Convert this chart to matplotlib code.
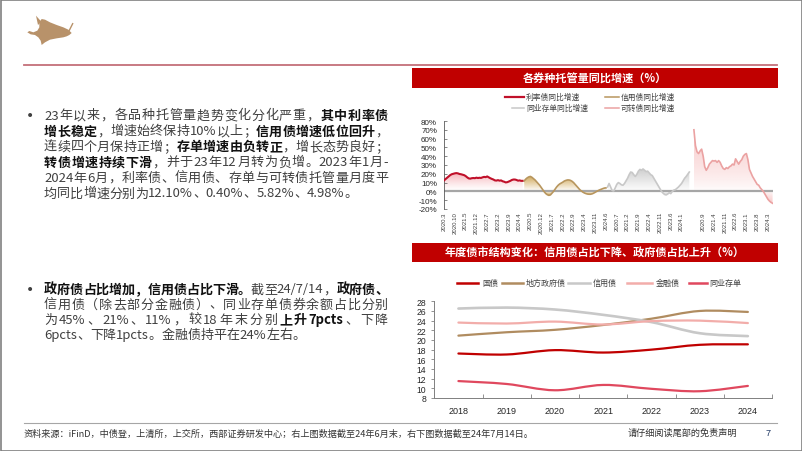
import numpy as np
import matplotlib
matplotlib.use('Agg')
import matplotlib.pyplot as plt
import matplotlib.colors as mcolors
from matplotlib.patches import Rectangle, Polygon, PathPatch
from matplotlib.path import Path

plt.rcParams['font.family'] = ['Noto Sans CJK SC', 'DejaVu Sans']

W, H = 802, 452

# ---------------- Chart 1 data (YoY growth, %) ----------------
rate_bond_yoy = [12.5, 14, 15.5, 17, 18.5, 19.5, 20, 20.5, 20.8, 20.5,
                 19.8, 19.5, 19, 18.5, 17.5, 16, 14.8, 14.5, 15, 15.2, 15, 15.6,
                 15.2, 15.5, 15.3, 16, 16.5, 16.2, 17, 16, 15, 14.2, 13.5, 12.5,
                 12.3, 12.8, 12.2, 12.5, 11.5, 11, 10.2, 10.5, 11.2, 12, 13, 13.5,
                 13.5, 13, 12.2, 12.5, 12, 12]
credit_bond_yoy = [12, 14, 15.5, 16.5, 17, 16, 14.5, 13, 11, 9, 7, 4.5, 2, -0.5, -2.5,
                   -3.8, -4.5, -4, -2, 0, 2.5, 5, 7, 8.5, 9.5, 10.5, 11.8, 12.5, 13, 13,
                   12.5, 11.5, 10, 8, 6, 4, 2, 0.5, -0.8, -1.8, -2.5, -3, -3.2, -3.2, -2.8,
                   -2, -1, 0, 1, 1.8, 2.5, 3.2, 3.8, 4]
ncd_yoy = [5, 9, 5, 1, 0.5, 4, 8, 10, 9, 7.5, 7, 9, 12, 15, 19, 22, 21.5, 19, 17, 19.5,
           23, 25, 24, 25.5, 24, 22.5, 23, 21, 19, 18, 15, 12, 9, 6, 3, 0, -2, -3.5, -4,
           -3, -1.5, -2.5, 0, 1.5, 2, 3.5, 5, 7, 9, 12, 15, 17, 19.5, 22]
convertible_yoy = [70, 52, 45, 43, 46, 48, 40, 28, 24, 27, 31, 33, 35, 34.5, 35, 33, 35,
                   33, 29, 26, 25, 27, 26, 28, 29, 31, 30, 37, 34, 31, 34, 36, 40, 42, 43,
                   36, 25, 21, 17, 14, 11, 8, 7, 4, 2, 0, -3, -6, -9, -11, -12.5, -13.5]
series1_names = ['利率债同比增速', '信用债同比增速', '同业存单同比增速', '可转债同比增速']
series1_colors = ['#C0102A', '#B8965E', '#C8C8C8', '#EBA2A2']
series1_fill = ['#F07A85', '#C99A3E', '#A8A8A8', '#F2A0A0']


def month_labels(y, m, n):
    out = []
    for i in range(n):
        mm = m - 1 + i
        out.append(f"{y + mm // 12}.{mm % 12 + 1}")
    return out


rate_months = month_labels(2020, 3, len(rate_bond_yoy))
credit_months = month_labels(2020, 1, len(credit_bond_yoy))
ncd_months = month_labels(2020, 1, len(ncd_yoy))
gap_labels = ['', '']
conv_months = month_labels(2020, 3, len(convertible_yoy))
categories = rate_months + credit_months + ncd_months + gap_labels + conv_months

# ---------------- Chart 2 data (share, %) ----------------
years = ['2018', '2019', '2020', '2021', '2022', '2023', '2024']
treasury = [17.2, 17.0, 17.9, 17.4, 18.0, 19.0, 19.1]
local_gov = [20.9, 21.6, 22.1, 23.1, 24.4, 26.0, 25.8]
credit_share = [26.5, 26.7, 26.3, 25.2, 23.7, 21.4, 20.8]
financial = [23.6, 23.4, 23.8, 23.2, 23.9, 24.0, 23.5]
ncd_share = [11.5, 10.9, 9.6, 10.7, 9.9, 9.4, 10.5]
series2_names = ['国债', '地方政府债', '信用债', '金融债', '同业存单']
series2_colors = ['#C00000', '#B08C60', '#C8C8C8', '#F2ADAA', '#E0485E']

# ---------------- figure ----------------
fig = plt.figure(figsize=(W / 100, H / 100), dpi=100)
bg = fig.add_axes([0, 0, 1, 1])
bg.set_xlim(0, W)
bg.set_ylim(H, 0)
bg.axis('off')


def px_axes(x0, y0, x1, y1):
    return fig.add_axes([x0 / W, 1 - y1 / H, (x1 - x0) / W, (y1 - y0) / H])


# border
bg.add_patch(Rectangle((0.5, 0.5), W - 1, H - 1, fc='none', ec='#808080', lw=1.2))

# logo (bull silhouette)
def logo_xy(pts):
    a = np.array(pts, float)
    return np.column_stack([10 + a[:, 0] / 3, 10 + a[:, 1] / 3])


body = [(88, 40), (95, 30), (105, 32), (120, 40), (140, 48), (160, 55), (175, 62),
        (185, 72), (178, 78), (170, 82), (160, 85), (140, 88), (120, 92), (105, 100),
        (95, 108), (92, 95), (85, 85), (75, 78), (62, 76), (52, 70), (58, 66), (70, 70),
        (82, 65), (88, 55)]
horn = [(84, 48), (78, 20), (94, 38)]
bg.add_patch(Polygon(logo_xy(body), closed=True, fc='#B8926A', ec='none'))
bg.add_patch(Polygon(logo_xy(horn), closed=True, fc='#B8926A', ec='none'))
tail = logo_xy([(178, 64), (184, 52), (188, 44)])
bg.plot(tail[:, 0], tail[:, 1], color='#B8926A', lw=1.0)

# top rule
bg.plot([24, 777], [65.5, 65.5], color='#C4707A', lw=1.3)

# title banners
for (y0, y1, title) in [(69, 89, '各券种托管量同比增速（%）'),
                        (244, 263, '年度债市结构变化：信用债占比下降、政府债占比上升（%）')]:
    bg.add_patch(Rectangle((412, y0), 366, y1 - y0, fc='#C00000', ec='none'))
    bg.text(595, (y0 + y1) / 2, title, color='white', fontsize=8, fontweight='bold',
            ha='center', va='center')

# chart 1 legend
leg1 = [(505, 524, 98, 0), (605, 619, 98, 1), (512, 524, 109, 2), (605, 619, 109, 3)]
for x0, x1, y, i in leg1:
    bg.plot([x0, x1], [y, y], color=series1_colors[i], lw=1.6 if i == 0 else 1.1)
    bg.text(x1 + 2, y, series1_names[i], fontsize=5.6, color='#404040', ha='left', va='center')

# chart 2 legend
leg2 = [(457, 478, 482), (502, 523, 526), (568, 590, 593), (627, 652, 656), (689, 707, 709)]
for i, (x0, x1, tx) in enumerate(leg2):
    bg.plot([x0, x1], [283.5, 283.5], color=series2_colors[i], lw=1.8)
    bg.text(tx, 283.5, series2_names[i], fontsize=5.8, color='#404040', ha='left', va='center')

# ---------------- chart 1 ----------------
ax1 = px_axes(444, 122, 772.6, 210)


def grad_fill(ax, x, y, color, amax, power=1.0):
    x = np.asarray(x, float)
    y = np.asarray(y, float)
    verts = np.vstack([[x[0], 0], np.column_stack([x, y]), [x[-1], 0]])
    poly = Polygon(verts, closed=True, fc='none', ec='none')
    ax.add_patch(poly)
    top = max(y.max(), 0.1)
    bot = min(y.min(), -0.1)
    ys = np.linspace(bot, top, 400)
    a = np.where(ys >= 0, ys / top, ys / bot)
    a = amax * np.clip(a, 0, 1) ** power
    img = np.zeros((400, 2, 4))
    img[..., :3] = mcolors.to_rgb(color)
    img[..., 3] = a[:, None]
    im = ax.imshow(img, extent=[x[0], x[-1], bot, top], origin='lower', aspect='auto',
                   interpolation='bilinear', zorder=1)
    im.set_clip_path(poly)


offs = [0, len(rate_bond_yoy), len(rate_bond_yoy) + len(credit_bond_yoy),
        len(rate_bond_yoy) + len(credit_bond_yoy) + len(ncd_yoy) + len(gap_labels)]
all_series = [rate_bond_yoy, credit_bond_yoy, ncd_yoy, convertible_yoy]
amaxes = [0.6, 0.85, 0.55, 0.55]
powers = [1.3, 1.0, 1.0, 0.7]
for i, (off, vals) in enumerate(zip(offs, all_series)):
    xs = np.arange(len(vals)) + off
    grad_fill(ax1, xs, vals, series1_fill[i], amaxes[i], powers[i])
ax1.axhline(0, color='#A6A6A6', lw=1.6, zorder=2)
for i, (off, vals) in enumerate(zip(offs, all_series)):
    xs = np.arange(len(vals)) + off
    ax1.plot(xs, vals, color=series1_colors[i], lw=1.5 if i == 0 else 1.2, zorder=3)

ax1.set_xlim(0, len(categories) - 1)
ax1.set_ylim(-20, 80)
ax1.set_facecolor('none')
for s in ['top', 'right', 'bottom']:
    ax1.spines[s].set_visible(False)
ax1.spines['left'].set_color('#595959')
ax1.spines['left'].set_linewidth(0.6)
yt = list(range(-20, 81, 10))
ax1.set_yticks(yt)
ax1.set_yticklabels([f'{v}%' for v in yt], fontsize=5.8, family='Liberation Sans', color='#262626')
ax1.tick_params(axis='y', direction='in', length=2, width=0.5, pad=5, colors='#595959',
                labelcolor='#262626')
xt = list(range(0, len(categories), 7))
ax1.set_xticks(xt)
ax1.set_xticklabels([categories[i] for i in xt], rotation=90, fontsize=4.3,
                    family='Liberation Sans', color='#404040')
ax1.tick_params(axis='x', length=0, pad=1.5)

# ---------------- chart 2 ----------------
ax2 = px_axes(434.3, 302.3, 772, 399)


def smooth_path(xs, ys):
    pts = np.column_stack([xs, ys]).astype(float)
    n = len(pts)
    verts = [pts[0]]
    codes = [Path.MOVETO]
    for i in range(n - 1):
        p0 = pts[i - 1] if i > 0 else pts[i]
        p1 = pts[i]
        p2 = pts[i + 1]
        p3 = pts[i + 2] if i + 2 < n else pts[i + 1]
        verts += [p1 + (p2 - p0) / 6, p2 - (p3 - p1) / 6, p2]
        codes += [Path.CURVE4] * 3
    return Path(verts, codes)


xpos = np.arange(len(years))
for i, vals in enumerate([treasury, local_gov, credit_share, financial, ncd_share]):
    ax2.add_patch(PathPatch(smooth_path(xpos, vals), fc='none', ec=series2_colors[i],
                            lw=1.9 if i == 2 else 1.6, capstyle='round', zorder=3))
ax2.set_xlim(-0.5, len(years) - 0.5)
ax2.set_ylim(8, 28)
ax2.set_facecolor('none')
for s in ['top', 'right']:
    ax2.spines[s].set_visible(False)
for s in ['left', 'bottom']:
    ax2.spines[s].set_color('#808080')
    ax2.spines[s].set_linewidth(0.7)
ax2.set_yticks(range(8, 29, 2))
ax2.set_yticklabels([str(v) for v in range(8, 29, 2)], fontsize=6.2, family='Liberation Sans',
                    color='#262626')
ax2.tick_params(axis='y', direction='out', length=2, width=0.6, pad=4, colors='#808080',
                labelcolor='#262626')
ax2.set_xticks(xpos)
ax2.set_xticklabels(years, fontsize=6.5, family='Liberation Sans', color='#262626')
ax2.set_xticks(np.arange(-0.5, len(years), 1), minor=True)
ax2.tick_params(axis='x', which='major', length=0, pad=6)
ax2.tick_params(axis='x', which='minor', direction='in', length=3, width=0.6, colors='#808080')

# ---------------- left text ----------------
renderer = fig.canvas.get_renderer()
_cache = {}


def adv(tok, bold, size):
    key = (tok, bold, size)
    if key not in _cache:
        w = 'bold' if bold else 'normal'
        t1 = bg.text(0, 0, tok + '国', fontsize=size, fontweight=w)
        t2 = bg.text(0, 0, '国', fontsize=size, fontweight=w)
        _cache[key] = (t1.get_window_extent(renderer).width -
                       t2.get_window_extent(renderer).width)
        t1.remove()
        t2.remove()
    return _cache[key]


def tokens(s):
    out, buf = [], ''
    for ch in s:
        if ord(ch) < 128:
            buf += ch
        else:
            if buf:
                out.append(buf)
                buf = ''
            out.append(ch)
    if buf:
        out.append(buf)
    return out


def draw_line(x0, y, runs, size, justify_to=None):
    toks = []
    for text, bold in runs:
        for t in tokens(text):
            toks.append((t, bold))
    widths = [adv(t, b, size) for t, b in toks]
    gap = 0
    if justify_to is not None and len(toks) > 1:
        gap = (justify_to - x0 - sum(widths)) / (len(toks) - 1)
    x = x0
    for (t, b), w in zip(toks, widths):
        bg.text(x, y, t, fontsize=size, fontweight='bold' if b else 'normal',
                color='#111111' if b else '#404040', ha='left', va='center')
        x += w + gap


FS = 9.4
para1 = [
    [('23年以来，各品种托管量趋势变化分化严重，', False), ('其中利率债', True)],
    [('增长稳定', True), ('，增速始终保持10%以上；', False), ('信用债增速低位回升', True), ('，', False)],
    [('连续四个月保持正增；', False), ('存单增速由负转正', True), ('，增长态势良好；', False)],
    [('转债增速持续下滑', True), ('，并于23年12月转为负增。2023年1月-', False)],
    [('2024年6月，利率债、信用债、存单与可转债托管量月度平', False)],
    [('均同比增速分别为12.10%、0.40%、5.82%、4.98%。', False)],
]
para2 = [
    [('政府债占比增加，信用债占比下滑。', True), ('截至24/7/14，', False), ('政府债、', True)],
    [('信用债（除去部分金融债）、同业存单债券余额占比分别', False)],
    [('为45%、21%、11%，较18年末分别', False), ('上升7pcts', True), ('、下降', False)],
    [('6pcts、下降1pcts。金融债持平在24%左右。', False)],
]
for k, runs in enumerate(para1):
    draw_line(44, 116 + 15.6 * k, runs, FS, 388 if k < len(para1) - 1 else None)
for k, runs in enumerate(para2):
    draw_line(44, 290 + 15.2 * k, runs, FS, 388 if k < len(para2) - 1 else None)
bg.text(30, 116, '•', fontsize=10, color='#404040', ha='center', va='center', family='DejaVu Sans')
bg.text(30, 290, '•', fontsize=10, color='#404040', ha='center', va='center', family='DejaVu Sans')

# ---------------- footer ----------------
bg.plot([24, 777], [424, 424], color='#A6A6A6', lw=0.8)
bg.text(24, 434.5, '资料来源：iFinD，中债登，上清所，上交所，西部证券研发中心；右上图数据截至24年6月末，右下图数据截至24年7月14日。',
        fontsize=6.6, color='#333333', ha='left', va='center')
bg.text(628, 433.5, '请仔细阅读尾部的免责声明', fontsize=6.6, color='#333333', ha='left', va='center')
bg.text(768, 434, '7', fontsize=6.6, color='#1F3864', ha='center', va='center', family='Liberation Sans')

fig.savefig('out.png', dpi=100)
